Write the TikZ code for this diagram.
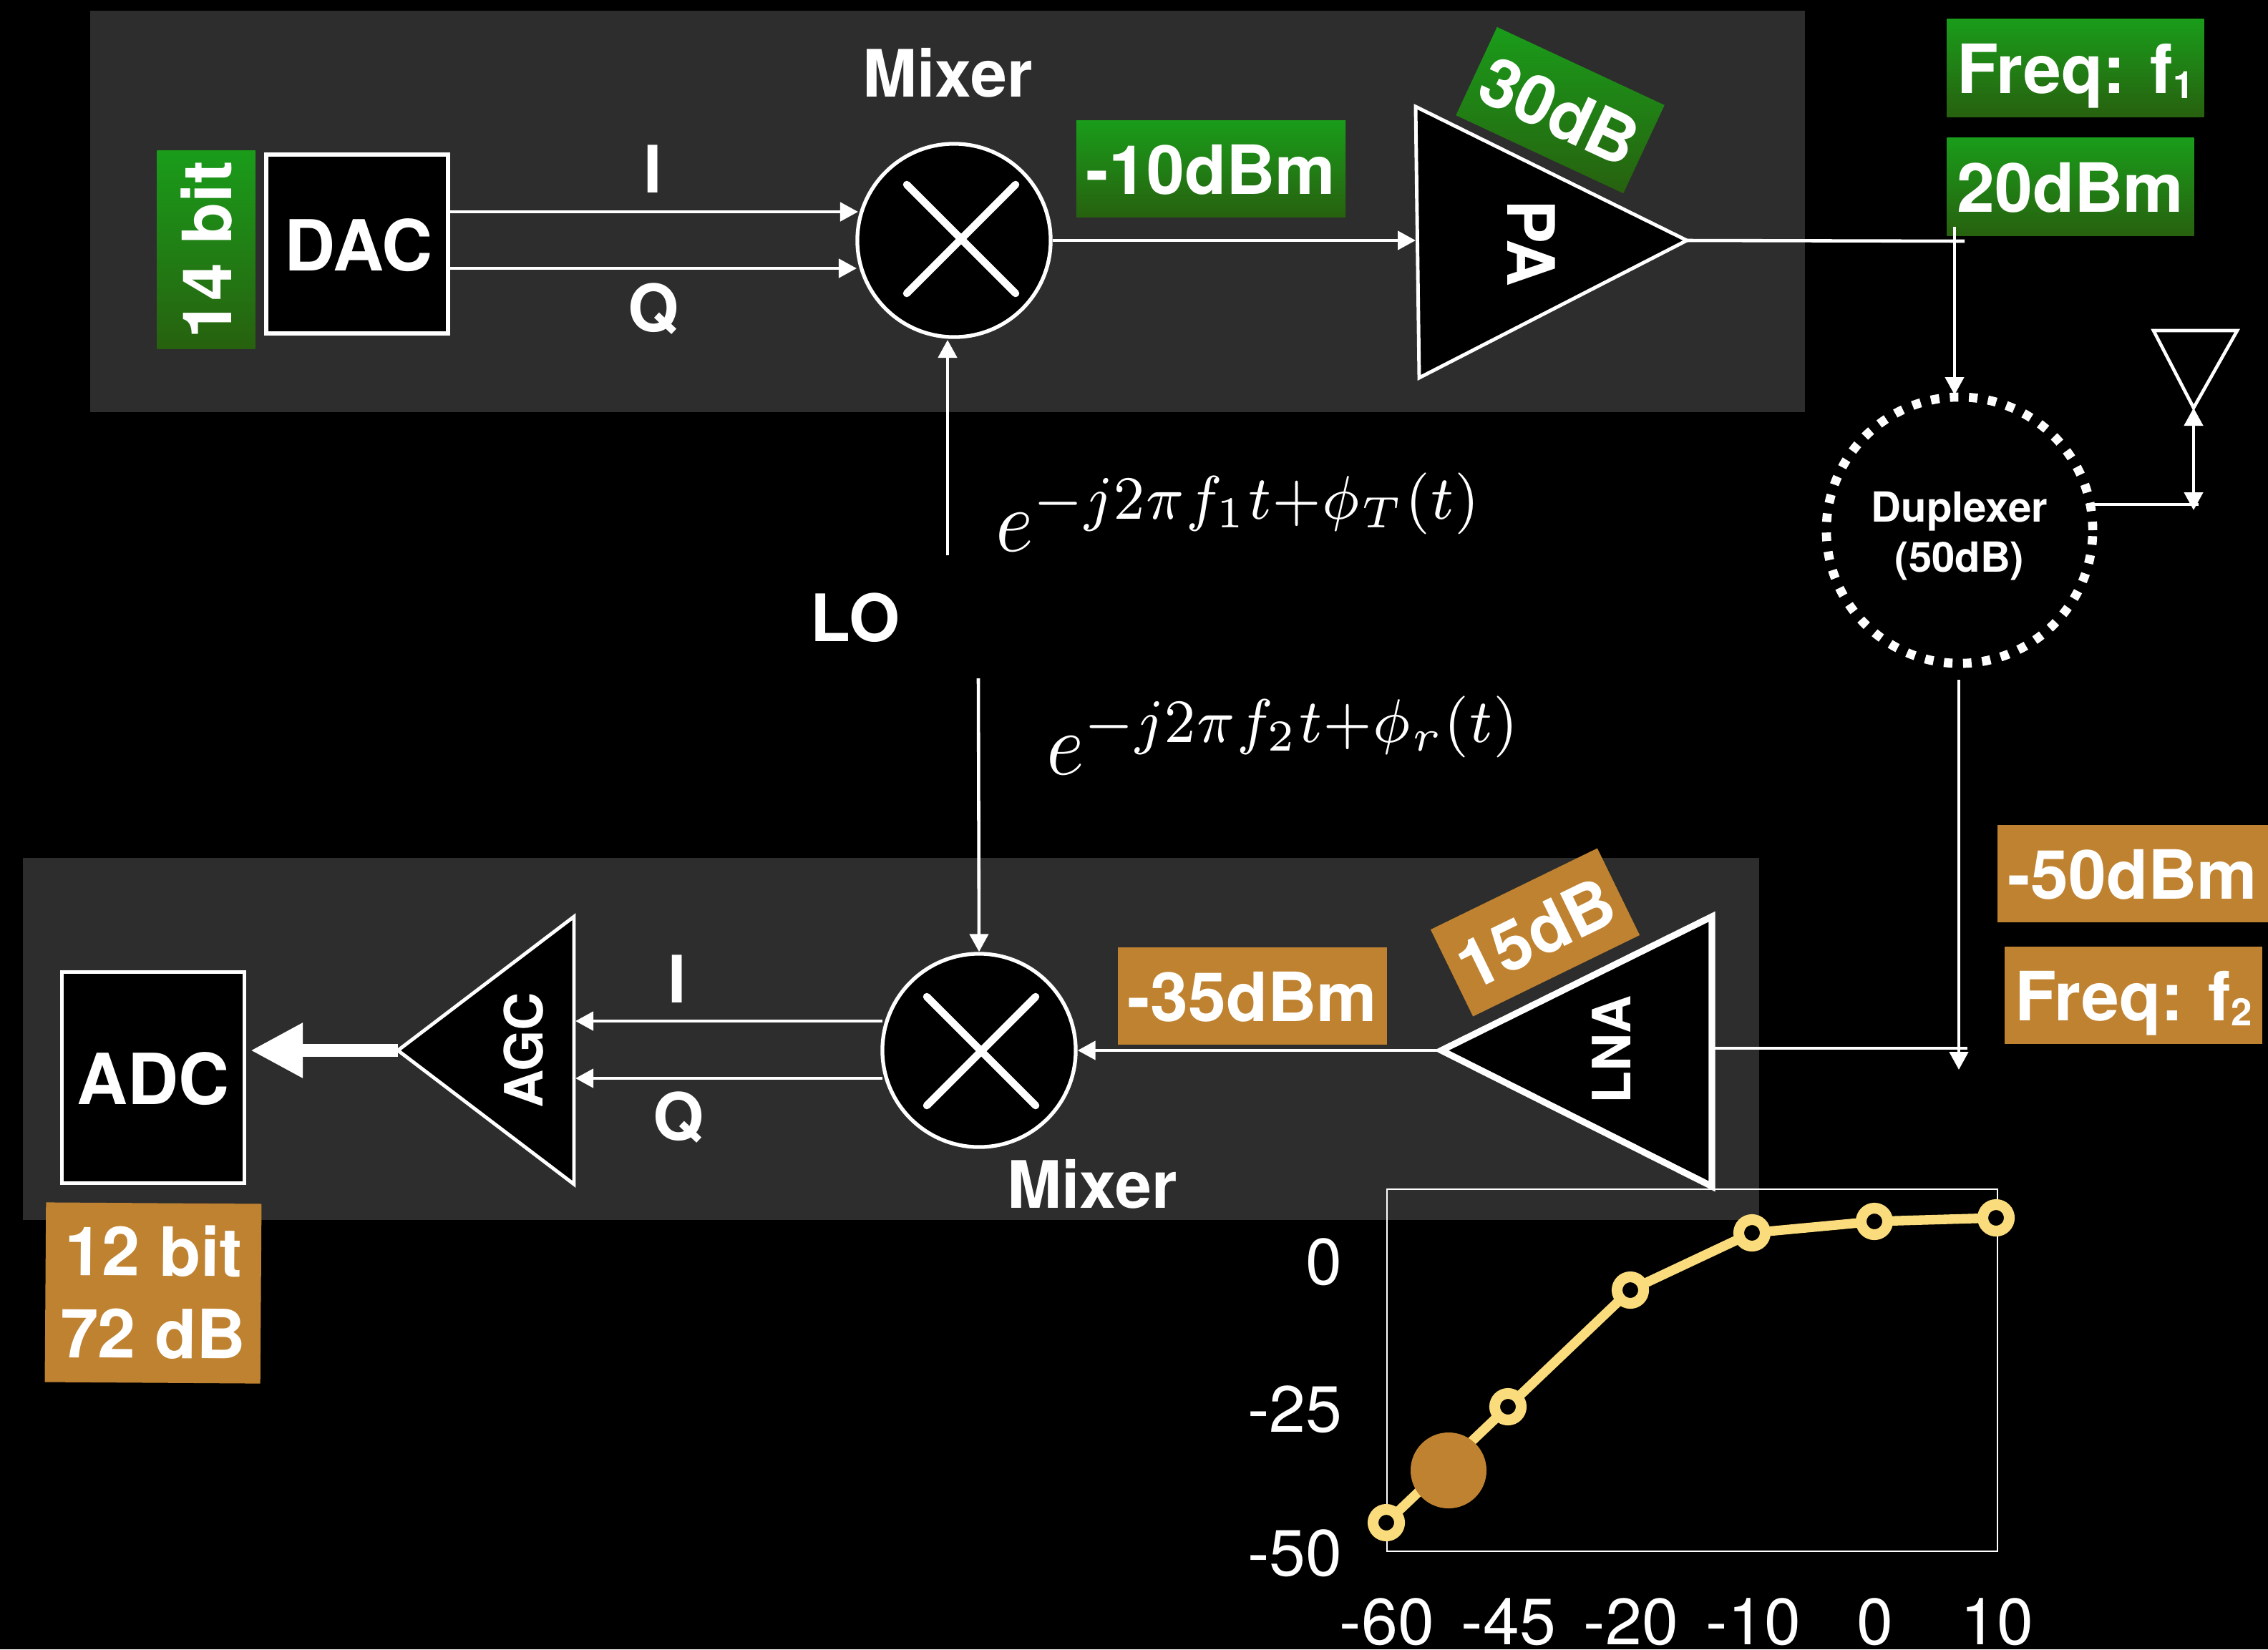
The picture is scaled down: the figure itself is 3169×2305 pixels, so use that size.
\documentclass[tikz,border=0pt]{standalone}
\usepackage[no-math]{fontspec}
\setmainfont{TeX Gyre Heros}
\usetikzlibrary{arrows.meta}
\definecolor{panelgray}{HTML}{2D2D2D}
\definecolor{tagorange}{HTML}{BF8230}
\definecolor{taggreentop}{HTML}{1A9C1A}
\definecolor{taggreenbot}{HTML}{27610F}
\definecolor{curveyellow}{HTML}{FBDC7C}
\newcommand{\tagsub}[1]{\raisebox{-2pt}{\fontsize{15}{15}\selectfont #1}}
\tikzset{
    sig/.style={draw=white,line width=1.3pt,-{Triangle[length=.25cm,width=.26cm]}},
    wire/.style={draw=white,line width=1.3pt},
    block/.style={draw=white,line width=1.5pt,fill=black,inner sep=0pt},
    mixer/.style={block,circle,minimum size=2.7cm},
    cross/.style={white,line width=3pt,line cap=round},
    amp/.style={draw=white,line width=1.4pt,fill=black,line join=miter},
    tagbase/.style={inner sep=0pt,text=white,font=\fontsize{27}{32.7}\selectfont\bfseries,text height=20.4pt,text depth=0pt,align=center},
    greentag/.style={tagbase,top color=taggreentop,bottom color=taggreenbot},
    orangetag/.style={tagbase,fill=tagorange},
    lab/.style={text=white,inner sep=0pt,font=\fontsize{26}{30}\selectfont\bfseries},
    ampname/.style={text=white,inner sep=0pt,font=\fontsize{21}{25}\selectfont\bfseries},
    axlab/.style={text=white,inner sep=0pt,text depth=0pt,font=\fontsize{26}{28}\selectfont},
    phase/.style={text=white,inner sep=0pt,xscale=3.2,yscale=3.5,anchor=base west},
    curvemark/.style={circle,draw=curveyellow,line width=4.3pt,fill=black,minimum size=.37cm,inner sep=0pt}
}
\begin{document}
\begin{tikzpicture}[x=.01cm,y=-.01cm]
    \useasboundingbox (0,0) rectangle (3169,2305);
    \fill[black] (0,0) rectangle (3169,2305);
    \fill[panelgray] (126,15) rectangle (2522,576);
    \fill[panelgray] (32,1199) rectangle (2458,1705);

    % transmit side
    \node[block,minimum width=2.54cm,minimum height=2.5cm] (DAC) at (499,341) {};
    \node[lab,font=\fontsize{28}{32}\selectfont\bfseries] (DACtxt) at (501,343) {DAC};
    \node[greentag,rotate=90,minimum width=2.76cm,minimum height=1.37cm] (bitsT) at (288,349) {14 bit};
    \node[mixer] (MixT) at (1333,336) {};
    \draw[cross] (1267,258) -- (1419,410) (1419,258) -- (1267,410);
    \node[lab] (MixTtxt) at (1324,102) {Mixer};
    \node[lab] (IT) at (912,236) {I};
    \node[lab] (QT) at (913,432) {Q};
    \coordinate (DACi) at (626,296);
    \coordinate (DACq) at (626,375);
    \coordinate (MixTi) at (1199,296);
    \coordinate (MixTq) at (1197,375);
    \draw[sig] (DACi) to (MixTi);
    \draw[sig] (DACq) to (MixTq);
    \node[greentag,minimum width=3.76cm,minimum height=1.35cm] (levelA) at (1692,236) {-10dBm};

    \coordinate (PAa) at (1978,149);
    \coordinate (PAb) at (1983,528);
    \coordinate (PAout) at (2357,336);
    \coordinate (PAin) at (1978,336);
    \draw[amp] (PAa) -- (PAout) -- (PAb) -- cycle;
    \node[ampname,font=\fontsize{26}{30}\selectfont\bfseries,rotate=-90] (PAtxt) at (2140,340) {PA};
    \draw[sig] (MixT.east) to (PAin);
    \node[greentag,rotate=-25,minimum width=2.58cm,minimum height=1.36cm] (gainT) at (2180,154) {30dB};

    \node[greentag,minimum width=3.59cm,minimum height=1.36cm] (freqA) at (2900,95) {Freq: f\tagsub{1}};
    \node[greentag,minimum width=3.45cm,minimum height=1.36cm] (levelB) at (2893,261) {20dBm};

    \coordinate (teeA) at (2745,337);
    \coordinate (teeB) at (2731,317);
    \coordinate (DupTop) at (2731,552);
    \draw[wire] (PAout) to (teeA);
    \draw[sig] (teeB) to (DupTop);

    % duplexer and antenna
    \node[draw=white,circle,line width=3.6pt,dash pattern=on 3.4pt off 4.2pt,minimum size=3.72cm,inner sep=0pt] (Dup) at (2738,741) {};
    \node[text=white,inner sep=0pt,font=\fontsize{16.5}{20}\selectfont\bfseries,align=center] (Duptxt) at (2738,749) {Duplexer\\(50dB)};
    \coordinate (AntL) at (3009,462);
    \coordinate (AntR) at (3126,462);
    \coordinate (AntTip) at (3065,570);
    \draw[wire,line join=miter] (AntL) -- (AntR) -- (AntTip) -- cycle;
    \coordinate (DupOut) at (2916,705);
    \coordinate (DupTee) at (3072,705);
    \coordinate (AntFoot) at (3065,713);
    \draw[wire] (DupOut) to (DupTee);
    \draw[wire,{Triangle[length=.25cm,width=.26cm]}-{Triangle[length=.25cm,width=.26cm]}] (AntTip) to (AntFoot);

    % local oscillator
    \node[mixer] (MixR) at (1368,1468) {};
    \node[lab] (LO) at (1195,863) {LO};
    \coordinate (LOup) at (1324,776);
    \coordinate (MixTbot) at (1324,475);
    \coordinate (LOdown) at (1367,948);
    \draw[sig] (LOup) to (MixTbot);
    \draw[sig] (LOdown) to (MixR.north);
    \node[phase] (phaseT) at (1389,770) {$e^{-j2\pi f_1t+\phi_T(t)}$};
    \node[phase] (phaseR) at (1460,1082) {$e^{-j2\pi f_2t+\phi_r(t)}$};

    % receive side
    \draw[cross] (1295,1393) -- (1447,1545) (1447,1393) -- (1295,1545);
    \node[lab] (MixRtxt) at (1526,1655) {Mixer};
    \node[block,minimum width=2.55cm,minimum height=2.95cm] (ADC) at (214,1506) {};
    \node[lab,font=\fontsize{28}{32}\selectfont\bfseries] (ADCtxt) at (214,1508) {ADC};
    \node[orangetag,rotate=-.4,minimum width=3.01cm,minimum height=2.51cm,text height=52pt] (bitsR) at (214,1807) {12 bit\\72 dB};

    \coordinate (AGCa) at (802,1281);
    \coordinate (AGCb) at (802,1655);
    \coordinate (AGCtip) at (556,1468);
    \coordinate (ADCin) at (350,1468);
    \draw[amp] (AGCa) -- (AGCtip) -- (AGCb) -- cycle;
    \node[ampname,rotate=90] (AGCtxt) at (732,1468) {AGC};
    \draw[draw=white,line width=5.1pt,-{Triangle[length=.73cm,width=.72cm]}] (AGCtip) to (ADCin);
    \coordinate (MixRi) at (1233,1427);
    \coordinate (MixRq) at (1233,1507);
    \coordinate (AGCi) at (804,1427);
    \coordinate (AGCq) at (804,1507);
    \draw[sig] (MixRi) to (AGCi);
    \draw[sig] (MixRq) to (AGCq);
    \node[lab] (IR) at (946,1368) {I};
    \node[lab] (QR) at (948,1562) {Q};

    \coordinate (LNAa) at (2392,1281);
    \coordinate (LNAb) at (2392,1658);
    \coordinate (LNAtip) at (2014,1468);
    \draw[amp,line width=2.6pt] (LNAa) -- (LNAtip) -- (LNAb) -- cycle;
    \node[ampname,rotate=90] (LNAtxt) at (2252,1467) {LNA};
    \draw[sig] (LNAtip) to (MixR.east);
    \node[orangetag,minimum width=3.76cm,minimum height=1.36cm] (levelC) at (1750,1392) {-35dBm};
    \node[orangetag,rotate=26,minimum width=2.59cm,minimum height=1.35cm] (gainR) at (2145,1303) {15dB};

    \node[orangetag,minimum width=3.77cm,minimum height=1.36cm] (levelD) at (2980,1221) {-50dBm};
    \node[orangetag,minimum width=3.59cm,minimum height=1.36cm] (freqB) at (2981,1391) {Freq: f\tagsub{2}};

    \coordinate (DupBot) at (2737,950);
    \coordinate (teeC) at (2737,1495);
    \coordinate (LNAin) at (2394,1465);
    \coordinate (teeD) at (2749,1465);
    \draw[sig] (DupBot) to (teeC);
    \draw[wire] (LNAin) to (teeD);

    % gain curve
    \draw[white,line width=.7pt] (1938,1662) rectangle (2791,2168);
    \foreach \name/\px/\py in {pA/1937/2128,pB/2107/1966,pC/2278/1803,pD/2448/1723,pE/2619/1707,pF/2789/1702}
        \coordinate (\name) at (\px,\py);
    \draw[curveyellow,line width=3.8pt] (pA) -- (pB) -- (pC) -- (pD) -- (pE) -- (pF);
    \foreach \name in {pA,pB,pC,pD,pE,pF}
        \node[curvemark] at (\name) {};
    \node[circle,fill=tagorange,minimum size=1.06cm,inner sep=0pt] (opPoint) at (2024,2055) {};
    \foreach \name/\px/\val in {xA/1938/-60,xB/2108/-45,xC/2279/-20,xD/2450/-10,xE/2620/0,xF/2790/10}
        \node[axlab] (\name) at (\px,2266) {\val};
    \foreach \name/\py/\val in {yA/1763/0,yB/1969/-25,yC/2170/-50}
        \node[axlab,anchor=east] (\name) at (1876,\py) {\val};
\end{tikzpicture}
\end{document}
